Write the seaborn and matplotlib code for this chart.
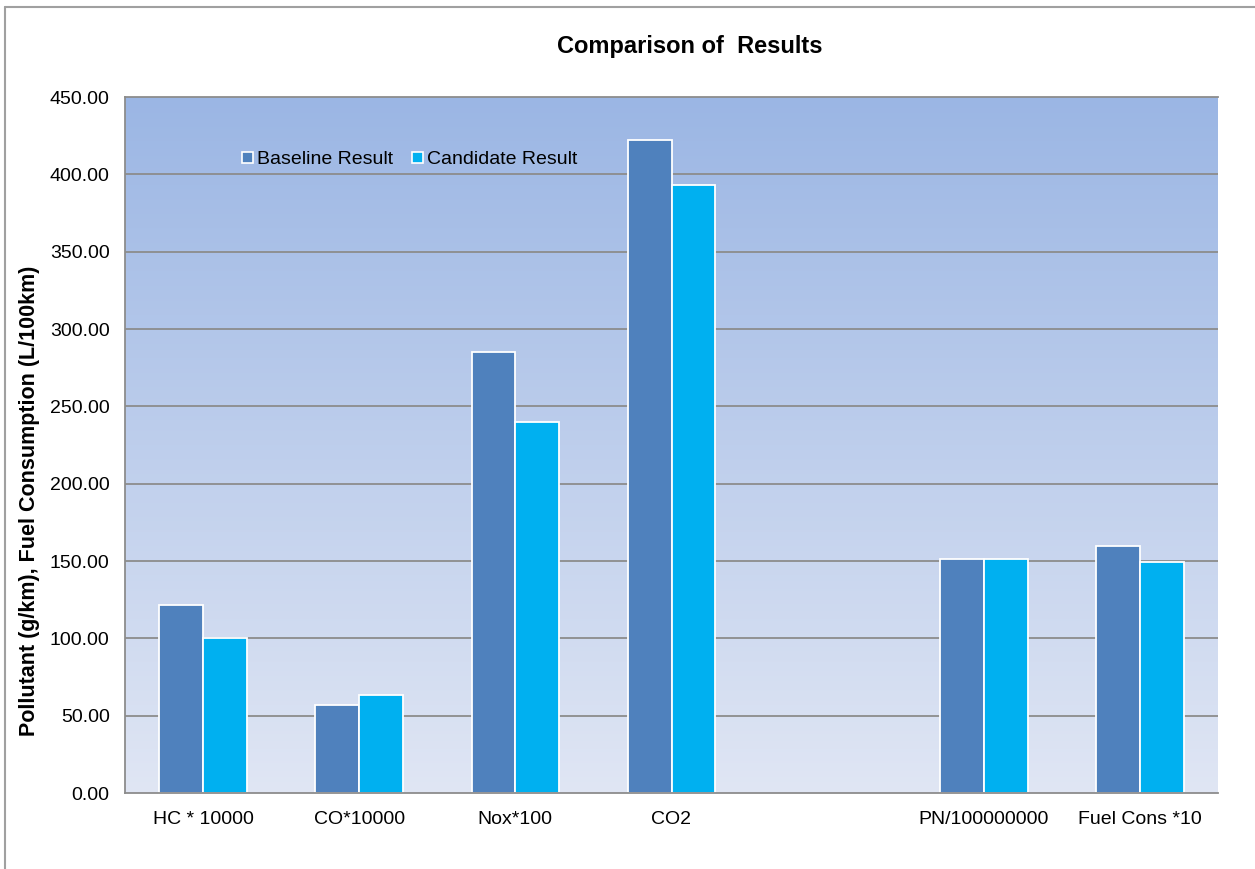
import numpy as np
import pandas as pd
import matplotlib
matplotlib.use("Agg")
import matplotlib.pyplot as plt
import seaborn as sns
from matplotlib.patches import Rectangle
from matplotlib.lines import Line2D

categories = ["HC * 10000", "CO*10000", "Nox*100", "CO2", " ", "PN/100000000", "Fuel Cons *10"]
baseline = [121.5, 56.9, 285.0, 422.2, np.nan, 151.2, 159.7]
candidate = [100.2, 63.3, 240.0, 393.2, np.nan, 151.2, 149.4]
series_names = ["Baseline Result", "Candidate Result"]
yticks = [0, 50, 100, 150, 200, 250, 300, 350, 400, 450]

colors = ["#4F81BD", "#00B0F0"]

df = pd.DataFrame({
    "category": categories * 2,
    "value": baseline + candidate,
    "series": [series_names[0]] * len(categories) + [series_names[1]] * len(categories),
})

sns.set_style("white")
plt.rcParams["font.family"] = ["Liberation Sans", "DejaVu Sans"]
plt.rcParams["text.color"] = "black"
plt.rcParams["xtick.color"] = "black"
plt.rcParams["ytick.color"] = "black"

W, H = 1255, 869
fig = plt.figure(figsize=(W / 100, H / 100), dpi=100)
left, right, top, bottom = 125, 1218, 97, 793
ax = fig.add_axes([left / W, 1 - bottom / H, (right - left) / W, (bottom - top) / H])

# gradient background
grad = np.linspace(0, 1, 256).reshape(-1, 1)
c_top = np.array([155, 182, 228]) / 255
c_bot = np.array([224, 230, 244]) / 255
img = c_top[None, None, :] * (1 - grad[:, :, None]) + c_bot[None, None, :] * grad[:, :, None]
ax.imshow(img, extent=[-0.5, 6.5, 0, 450], aspect="auto", origin="upper", zorder=0)

for yv in yticks[1:-1]:
    ax.axhline(yv, color="#8c8c8c", lw=1.3, zorder=1)

sns.barplot(data=df, x="category", y="value", hue="series", order=categories,
            hue_order=series_names, palette=colors, width=0.56, gap=0,
            edgecolor="white", linewidth=1.3, saturation=1, ax=ax, zorder=2,
            legend=False)

ax.set_xlim(-0.5, 6.5)
ax.set_ylim(0, 450)
ax.set_yticks(yticks)
ax.set_yticklabels([f"{v:.2f}" for v in yticks], fontsize=14)
ax.set_xticks(range(len(categories)))
ax.set_xticklabels(categories, fontsize=14)
ax.set_xticks(np.arange(-0.5, 7, 1), minor=True)
ax.tick_params(axis="x", which="major", length=0, pad=13, colors="black")
ax.tick_params(axis="x", which="minor", length=6, color="#8c8c8c", width=1.3)
ax.tick_params(axis="y", which="major", length=6, color="#8c8c8c", width=1.3, pad=5,
               labelcolor="black")
ax.set_xlabel("")
ax.set_ylabel("")
ax.spines["right"].set_visible(False)
for s in ["left", "bottom", "top"]:
    ax.spines[s].set_visible(True)
    ax.spines[s].set_color("#8c8c8c")
    ax.spines[s].set_linewidth(1.3)

handles = [Rectangle((0, 0), 1, 1, facecolor=c, edgecolor="white", lw=1.2) for c in colors]
ax.legend(handles, series_names, loc="upper left", bbox_to_anchor=(0.1, 0.933),
          ncol=2, frameon=False, fontsize=14, handlelength=0.55, handleheight=0.55,
          handletextpad=0.2, columnspacing=1.0, borderaxespad=0, labelcolor="black")

fig.text(690 / W, 1 - 47 / H, "Comparison of  Results", ha="center", va="center",
         fontsize=17, fontweight="bold", color="black")
fig.text(30 / W, 1 - 501 / H, "Pollutant (g/km), Fuel Consumption (L/100km)",
         ha="center", va="center", rotation=90, fontsize=15.5, fontweight="bold",
         color="black")

# outer chart frame
fig.add_artist(Line2D([5 / W, 5 / W], [1 - 7 / H, 0], color="#a0a0a0", lw=1.5))
fig.add_artist(Line2D([5 / W, 1], [1 - 7 / H, 1 - 7 / H], color="#a0a0a0", lw=1.5))

fig.savefig("out.png", dpi=100, facecolor="white")
